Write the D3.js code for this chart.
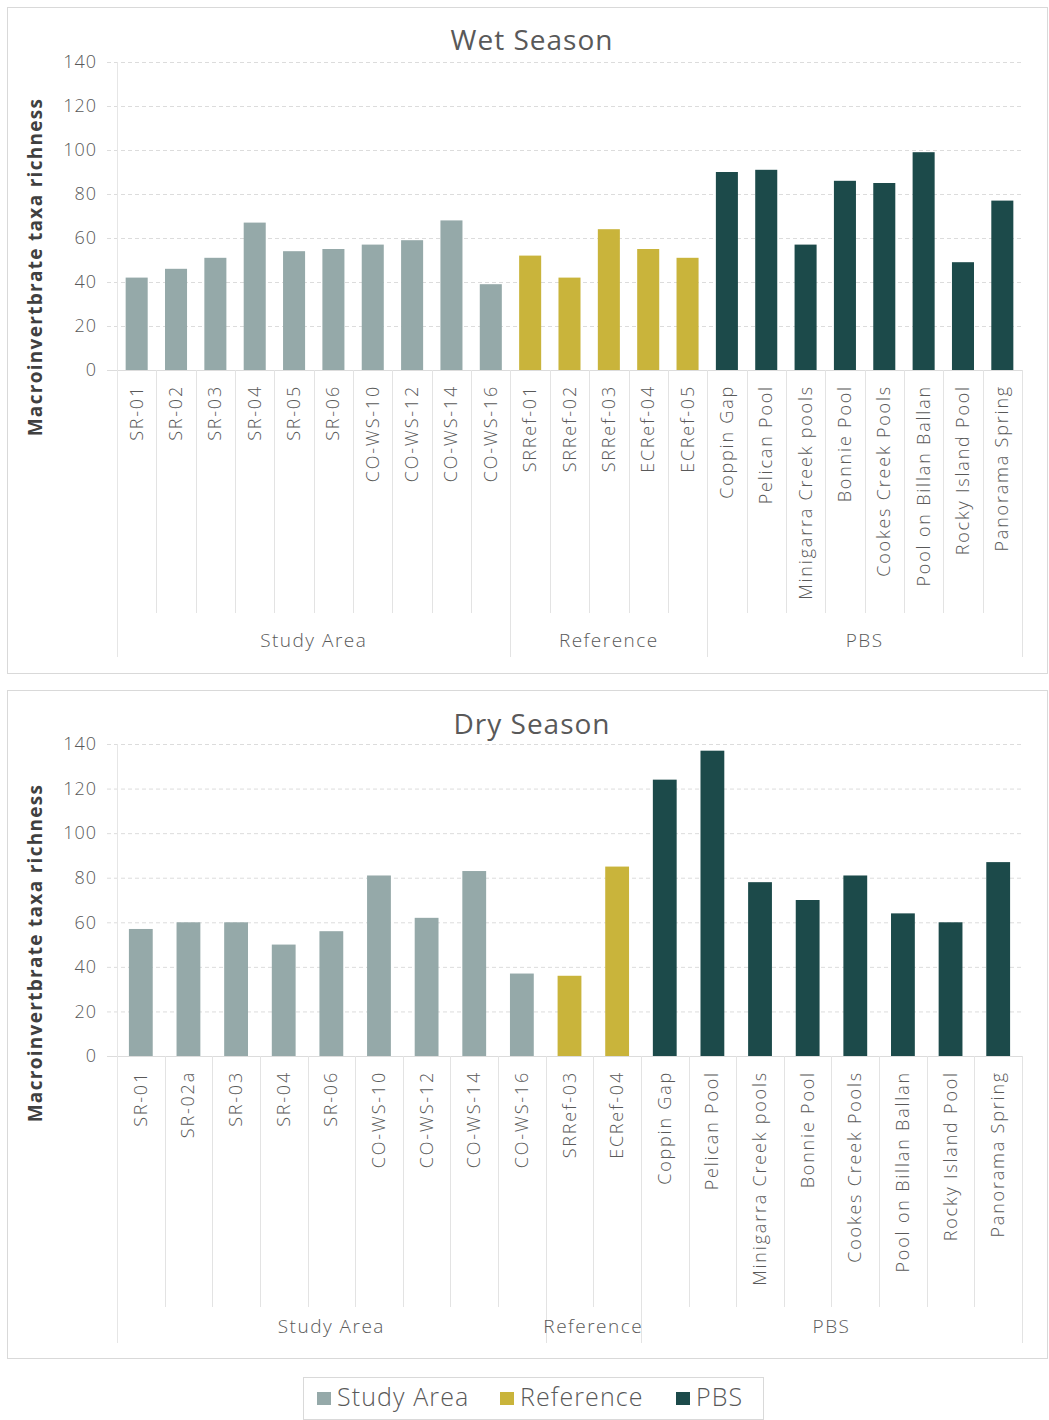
<!DOCTYPE html>
<html>
<head>
<meta charset="utf-8">
<script src="https://cdn.jsdelivr.net/npm/d3@7"></script>
<style>
  body { margin: 0; background: #fff; }
  text { font-family: "Open Sans", "Noto Sans", sans-serif; }
</style>
</head>
<body>
<div id="chart"></div>
<script>
// ---- data ----
const groupNames = ["Study Area", "Reference", "PBS"];
const groupColors = ["#95a9a9", "#c9b43b", "#1c4a4a"];
const yTicks = [0, 20, 40, 60, 80, 100, 120, 140];

const wetSites = ["SR-01", "SR-02", "SR-03", "SR-04", "SR-05", "SR-06", "CO-WS-10", "CO-WS-12", "CO-WS-14", "CO-WS-16",
  "SRRef-01", "SRRef-02", "SRRef-03", "ECRef-04", "ECRef-05",
  "Coppin Gap", "Pelican Pool", "Minigarra Creek pools", "Bonnie Pool", "Cookes Creek Pools", "Pool on Billan Ballan", "Rocky Island Pool", "Panorama Spring"];
const wetGroups = ["Study Area", "Study Area", "Study Area", "Study Area", "Study Area", "Study Area", "Study Area", "Study Area", "Study Area", "Study Area",
  "Reference", "Reference", "Reference", "Reference", "Reference",
  "PBS", "PBS", "PBS", "PBS", "PBS", "PBS", "PBS", "PBS"];
const wetValues = [42, 46, 51, 67, 54, 55, 57, 59, 68, 39,
  52, 42, 64, 55, 51,
  90, 91, 57, 86, 85, 99, 49, 77];

const drySites = ["SR-01", "SR-02a", "SR-03", "SR-04", "SR-06", "CO-WS-10", "CO-WS-12", "CO-WS-14", "CO-WS-16",
  "SRRef-03", "ECRef-04",
  "Coppin Gap", "Pelican Pool", "Minigarra Creek pools", "Bonnie Pool", "Cookes Creek Pools", "Pool on Billan Ballan", "Rocky Island Pool", "Panorama Spring"];
const dryGroups = ["Study Area", "Study Area", "Study Area", "Study Area", "Study Area", "Study Area", "Study Area", "Study Area", "Study Area",
  "Reference", "Reference",
  "PBS", "PBS", "PBS", "PBS", "PBS", "PBS", "PBS", "PBS"];
const dryValues = [57, 60, 60, 50, 56, 81, 62, 83, 37,
  36, 85,
  124, 137, 78, 70, 81, 64, 60, 87];

// ---- layout ----
const W = 1049, H = 1420;
const textCol = "#595959";
const lineCol = "#d9d9d9";
const color = d3.scaleOrdinal().domain(groupNames).range(groupColors);

const svg = d3.select("#chart").append("svg")
  .attr("width", W).attr("height", H);

function drawPanel(opt) {
  const g = svg.append("g");
  const sites = opt.sites, groups = opt.groups, values = opt.values;
  const rows = sites.map((s, i) => ({ site: s, group: groups[i], value: values[i] }));

  // panel frame
  g.append("rect")
    .attr("x", 7.5).attr("y", opt.top + 0.5)
    .attr("width", W - 9).attr("height", opt.panelH)
    .attr("fill", "#fff").attr("stroke", lineCol);

  const left = 117, right = 1022;
  const y0 = opt.top + opt.zeroY, y1 = opt.top + opt.maxY;

  // bars sit centred in equal category slots
  const x = d3.scaleBand().domain(sites).range([left, right])
    .paddingInner(opt.pad).paddingOuter(opt.pad / 2);
  const y = d3.scaleLinear().domain([0, 140]).range([y0, y1]);
  const step = x.step();

  // title
  g.append("text")
    .attr("x", 532).attr("y", opt.top + opt.titleY)
    .attr("text-anchor", "middle")
    .attr("font-size", 28).attr("fill", textCol)
    .attr("letter-spacing", 1)
    .text(opt.title);

  // grid + y labels
  const yAxis = g.append("g")
    .attr("transform", `translate(${left},0)`)
    .call(d3.axisLeft(y).tickValues(yTicks).tickSize(-(right - left)).tickPadding(20));
  yAxis.select(".domain").remove();
  yAxis.selectAll(".tick line")
    .attr("x1", -10)
    .attr("stroke", "#dcdcdc")
    .attr("stroke-dasharray", d => d === 0 ? null : "4,3");
  yAxis.selectAll(".tick text")
    .attr("font-size", 18).attr("fill", textCol)
    .attr("font-weight", 300)
    .attr("letter-spacing", 1)
    .attr("font-family", "'Open Sans', sans-serif");

  // y axis title
  g.append("text")
    .attr("transform", `translate(42,${opt.top + opt.yTitleC}) rotate(-90)`)
    .attr("text-anchor", "middle")
    .attr("font-size", 19).attr("font-weight", 700).attr("fill", "#404040")
    .attr("letter-spacing", 1.3)
    .text("Macroinvertbrate taxa richness");

  // bars
  g.append("g").selectAll("rect")
    .data(rows).join("rect")
    .attr("x", d => x(d.site))
    .attr("width", x.bandwidth())
    .attr("y", d => y(d.value))
    .attr("height", d => y(0) - y(d.value))
    .attr("fill", d => color(d.group));

  // vertical axis line
  g.append("line")
    .attr("x1", left + 0.5).attr("x2", left + 0.5)
    .attr("y1", y1).attr("y2", opt.top + opt.groupLineEnd)
    .attr("stroke", "#e6e6e6");

  // category separators
  const catLineEnd = opt.top + opt.catLineEnd;
  const groupEnd = opt.top + opt.groupLineEnd;
  const bounds = d3.range(1, sites.length + 1);
  g.append("g").selectAll("line")
    .data(bounds).join("line")
    .attr("x1", i => Math.round(left + i * step) + 0.5)
    .attr("x2", i => Math.round(left + i * step) + 0.5)
    .attr("y1", y0)
    .attr("y2", i => (i === sites.length || groups[i] !== groups[i - 1]) ? groupEnd : catLineEnd)
    .attr("stroke", "#e3e3e3");

  // category labels
  g.append("g").selectAll("text")
    .data(sites).join("text")
    .attr("transform", s => `translate(${x(s) + x.bandwidth() / 2 + 6},${y0 + 15}) rotate(-90)`)
    .attr("text-anchor", "end")
    .attr("font-size", 18).attr("fill", textCol)
    .attr("font-weight", 300)
    .attr("letter-spacing", 1.8)
    .text(s => s);

  // group labels
  groupNames.forEach(gn => {
    const idx = groups.map((d, i) => d === gn ? i : -1).filter(i => i >= 0);
    const cx = left + (idx[0] + idx[idx.length - 1] + 1) / 2 * step;
    g.append("text")
      .attr("x", cx).attr("y", opt.top + opt.groupLabelY)
      .attr("text-anchor", "middle")
      .attr("font-size", 19).attr("fill", textCol)
      .attr("font-weight", 300)
      .attr("letter-spacing", 1.5)
      .text(gn);
  });
}

drawPanel({
  title: "Wet Season", sites: wetSites, groups: wetGroups, values: wetValues,
  top: 7, panelH: 666, titleY: 43, maxY: 55, zeroY: 363, pad: 0.44,
  yTitleC: 260, catLineEnd: 606, groupLineEnd: 650, groupLabelY: 640
});

drawPanel({
  title: "Dry Season", sites: drySites, groups: dryGroups, values: dryValues,
  top: 690, panelH: 668, titleY: 44, maxY: 54, zeroY: 366, pad: 0.5,
  yTitleC: 263, catLineEnd: 617, groupLineEnd: 653, groupLabelY: 643
});

// legend
const leg = svg.append("g");
leg.append("rect")
  .attr("x", 303.5).attr("y", 1377.5).attr("width", 460).attr("height", 42)
  .attr("fill", "#fff").attr("stroke", lineCol);
const legX = [317, 500, 676];
groupNames.forEach((gn, i) => {
  leg.append("rect")
    .attr("x", legX[i]).attr("y", 1392).attr("width", 14).attr("height", 13)
    .attr("fill", color(gn));
  leg.append("text")
    .attr("x", legX[i] + 20).attr("y", 1406)
    .attr("font-size", 25).attr("fill", textCol)
    .attr("font-weight", 300)
    .attr("letter-spacing", 1.1)
    .text(gn);
});
</script>
</body>
</html>
